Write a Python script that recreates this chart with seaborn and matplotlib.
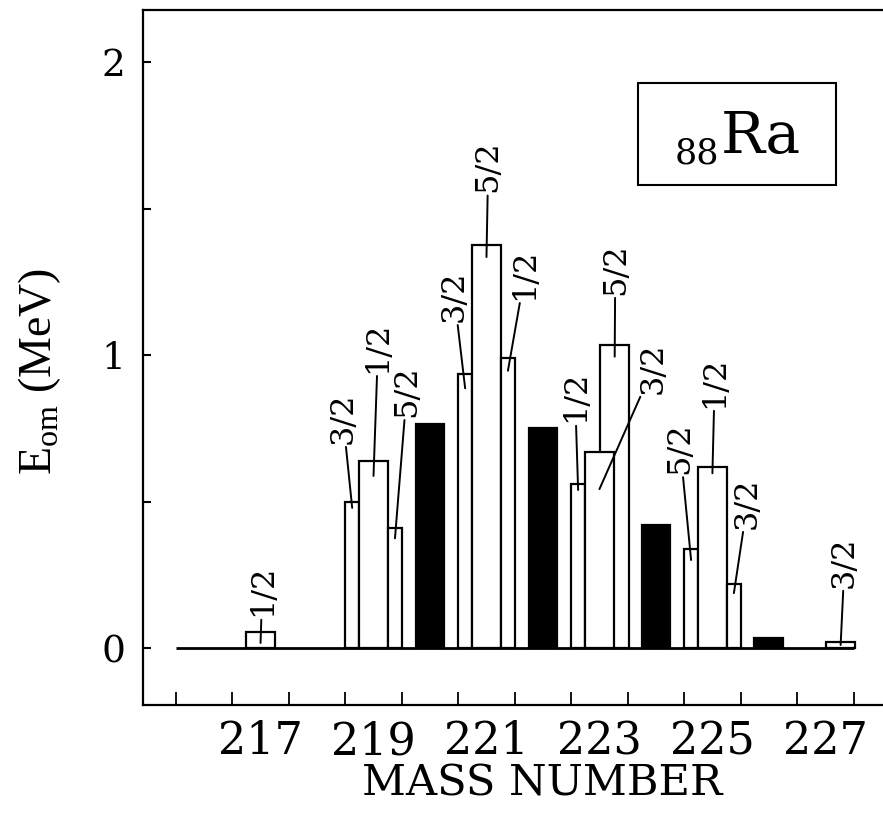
import numpy as np
import pandas as pd
import matplotlib
matplotlib.use('Agg')
import matplotlib.pyplot as plt
from matplotlib.patches import Rectangle
import seaborn as sns

# Bars: mass number, slot inside the mass group, E_om (MeV), spin (None = black bar)
mass = [217, 219, 219, 219, 220, 221, 221, 221, 222, 223, 223, 223, 224, 225, 225, 225, 226, 227]
slot = ['C', 'L', 'C', 'R', 'C', 'L', 'C', 'R', 'C', 'W', 'L', 'C', 'C', 'L', 'C', 'R', 'C', 'W']
e_om = [0.055, 0.50, 0.64, 0.41, 0.765, 0.935, 1.375, 0.99, 0.75,
        1.035, 0.56, 0.67, 0.42, 0.34, 0.62, 0.22, 0.035, 0.02]
spin = ['1/2', '3/2', '1/2', '5/2', None, '3/2', '5/2', '1/2', None,
        '5/2', '1/2', '3/2', None, '5/2', '1/2', '3/2', None, '3/2']

x_ticklabels = ['217', '219', '221', '223', '225', '227']
y_ticklabels = ['0', '1', '2']

# layout: slot -> (offset of bar centre, bar width) in mass units
slot_geom = {'L': (-0.3775, 0.245), 'C': (0.0, 0.51), 'R': (0.38, 0.25), 'W': (0.27, 0.51)}
# spin label centres (data coords) and how far the leader dips below the bar top
label_pos = [(217.03, 0.196), (218.46, 0.786), (219.08, 1.028), (219.59, 0.878),
             (220.43, 1.202), (221.03, 1.644), (221.68, 1.277), (223.28, 1.295),
             (222.57, 0.858), (223.95, 0.957), (224.43, 0.683), (225.04, 0.909),
             (225.62, 0.496), (227.34, 0.295)]
leader_dip = [0.037, 0.021, 0.052, 0.035, 0.048, 0.04, 0.043, 0.04,
              0.02, 0.127, 0.039, 0.023, 0.032, 0.009]

df = pd.DataFrame({'mass': mass, 'slot': slot, 'E': e_om, 'spin': spin})
df['xc'] = df['mass'] + df['slot'].map(lambda s: slot_geom[s][0])
df['w'] = df['slot'].map(lambda s: slot_geom[s][1])

sns.set_style('ticks', {'axes.edgecolor': 'black', 'text.color': 'black',
                        'axes.labelcolor': 'black', 'xtick.color': 'black',
                        'ytick.color': 'black'})
plt.rcParams['font.family'] = ['DejaVu Serif']
plt.rcParams['mathtext.fontset'] = 'custom'
plt.rcParams['mathtext.rm'] = 'Liberation Serif'

fig = plt.figure(figsize=(8.83, 8.14), dpi=100)
ax = fig.add_axes([0.162, 0.134, 0.838, 0.8537])

for _, r in df.iterrows():
    fill = 'black' if r['spin'] is None else 'white'
    sns.barplot(x=[r['xc']], y=[r['E']], native_scale=True, width=r['w'],
                color=fill, edgecolor='black', linewidth=1.6, saturation=1,
                errorbar=None, ax=ax)

# zero line across the mass range
ax.plot([215.5, 227.5], [0, 0], color='black', lw=2.0, zorder=5, solid_capstyle='butt')

# spin labels with leader lines
lab = df[df['spin'].notna()].reset_index(drop=True)
for i, r in lab.iterrows():
    ax.annotate(r['spin'], xy=(r['xc'], r['E'] - leader_dip[i]), xytext=label_pos[i],
                textcoords='data', rotation=90, ha='center', va='center', fontsize=23,
                color='black',
                arrowprops=dict(arrowstyle='-', color='black', lw=1.4,
                                shrinkA=0, shrinkB=0), zorder=6)

ax.set_xlim(214.92, 228.02)
ax.set_ylim(-0.1935, 2.178)

ax.set_xticks([int(t) for t in x_ticklabels])
ax.set_xticklabels(x_ticklabels, fontsize=32)
ax.set_xticks(np.arange(215.5, 228.0, 1.0), minor=True)
ax.tick_params(axis='x', which='major', length=0, pad=11)
ax.tick_params(axis='x', which='minor', direction='in', length=9.5, width=1.3)

ax.set_yticks([int(t) for t in y_ticklabels])
ax.set_yticklabels(y_ticklabels, fontsize=27)
ax.set_yticks([0.5, 1.5], minor=True)
ax.tick_params(axis='y', which='both', direction='in', length=6, width=1.5, pad=13)

for side in ['left', 'top', 'bottom']:
    ax.spines[side].set_linewidth(1.6)
ax.spines['right'].set_visible(False)

ax.set_xlabel('MASS NUMBER', fontsize=31)
ax.xaxis.set_label_coords(0.539, -0.083)
ax.set_ylabel(r'$\mathrm{E}_{\mathrm{om}}$ (MeV)', fontsize=33, family='Liberation Serif')
ax.yaxis.set_label_coords(-0.108, 0.48)

# element box
ax.add_patch(Rectangle((0.669, 0.748), 0.2676, 0.1468, transform=ax.transAxes,
                       fill=False, edgecolor='black', lw=1.5, zorder=6))
ax.text(0.779, 0.779, '88', transform=ax.transAxes, ha='right', va='baseline', fontsize=25)
ax.text(0.781, 0.794, 'Ra', transform=ax.transAxes, ha='left', va='baseline', fontsize=42)

fig.savefig('out.png', dpi=100, facecolor='white')
